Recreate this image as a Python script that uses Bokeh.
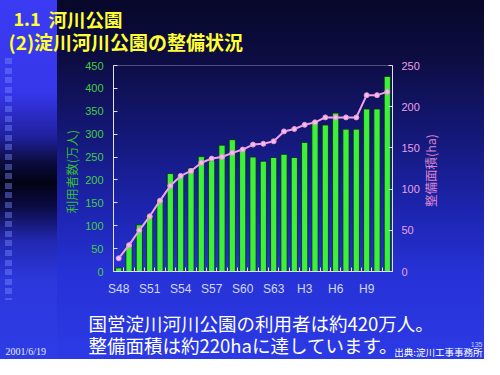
import math
from bokeh.plotting import figure
from bokeh.models import Range1d, LinearAxis, FixedTicker, Label, BoxAnnotation
from bokeh.embed import file_html
from bokeh.resources import INLINE

# ---- data ----
years = ["S48", "S49", "S50", "S51", "S52", "S53", "S54", "S55", "S56", "S57",
         "S58", "S59", "S60", "S61", "S62", "S63", "H1", "H2", "H3", "H4",
         "H5", "H6", "H7", "H8", "H9", "H10", "H11"]
users = [8, 58, 102, 124, 157, 214, 209, 226, 251, 242, 276, 288, 266, 250, 241, 249,
         256, 249, 282, 330, 320, 346, 311, 311, 355, 355, 426]
area = [16, 32, 50, 67, 86, 104, 116, 122, 132, 137, 139, 144, 148, 154, 155, 158,
        170, 173, 178, 181, 187, 187, 187, 187, 214, 214, 218]
label_years = ["S48", "S51", "S54", "S57", "S60", "S63", "H3", "H6", "H9"]
users_ticks = [0, 50, 100, 150, 200, 250, 300, 350, 400, 450]
area_ticks = [0, 50, 100, 150, 200, 250]
users_max, area_max = 450, 250

# ---- layout (pixels on the canvas) ----
W, H = 484, 359
PL, PR, PT, PB = 113, 392, 65, 271   # plot-area box
JP = "Noto Sans CJK JP"

n = len(years)
idx = list(range(n))
x0, x1 = -0.5, n - 0.5
xs = (PR - PL) / (x1 - x0)
ys = (PB - PT) / users_max
ys2 = (PB - PT) / area_max

p = figure(width=W, height=H, output_backend="svg", toolbar_location=None,
           x_axis_location=None, y_axis_location=None,
           x_range=Range1d(x0 - PL / xs, x1 + (W - PR) / xs),
           y_range=Range1d(-(H - PB) / ys, users_max + PT / ys),
           min_border_left=0, min_border_right=0, min_border_top=0, min_border_bottom=0)
p.extra_y_ranges = {"area": Range1d(-(H - PB) / ys2, area_max + PT / ys2)}
p.background_fill_color = None
p.border_fill_color = None
p.outline_line_color = None
p.grid.visible = False

p.styles = {
    "background": (
        "repeating-linear-gradient(to bottom, rgba(120,140,255,0.42) 0px, rgba(120,140,255,0.42) 6px, transparent 6px, transparent 9.6px) 5px 58px / 7px 242px no-repeat, "
        "linear-gradient(to bottom, #3b3bf4 0%, #3636ea 26%, #20209e 38%, #0c0c40 45%, #020214 51%, #0c0c48 58%, #2228b0 67%, #2c38dc 78%, #2e3ce6 100%) 0px 0px / 57px 100% no-repeat, "
        "linear-gradient(to bottom, #07072a 0%, #0d0d44 17%, #141878 38%, #1c24ae 58%, #2632d6 76%, #2c3ae6 100%)"
    )
}

# plot-area outline
p.add_layout(BoxAnnotation(left=x0, right=x1, bottom=0, top=users_max,
                           fill_color=None, line_color="#e0e0f0", line_width=1, level="underlay"))

# bars (left scale) and line (right scale)
p.vbar(x=idx, top=users, width=0.6, fill_color="#3cf03c", line_color="#0a2a0a", line_width=0.8)
p.line(x=idx, y=area, y_range_name="area", line_color="#f2a2ee", line_width=2)
p.scatter(x=idx, y=area, y_range_name="area", marker="circle", size=5,
          fill_color="#f6bce6", line_color="#e496d8")

AX = "#e0e0f0"

# bottom axis
xa = LinearAxis(fixed_location=0, bounds=(x0, x1))
xa.ticker = FixedTicker(ticks=[years.index(y) for y in label_years],
                        minor_ticks=[i + 0.5 for i in range(-1, n)])
xa.major_label_overrides = {years.index(y): y for y in label_years}
xa.major_tick_in = 0
xa.major_tick_out = 0
xa.minor_tick_in = 4
xa.minor_tick_out = 0
xa.minor_tick_line_color = AX
xa.axis_line_color = AX
xa.major_label_text_color = "#d0d8ff"
xa.major_label_text_font = "Liberation Sans"
xa.major_label_text_font_size = "12px"
xa.major_label_standoff = 10
p.add_layout(xa, "below")

# left axis
ya = LinearAxis(fixed_location=x0, bounds=(0, users_max), ticker=FixedTicker(ticks=users_ticks))
ya.major_tick_in = 4
ya.major_tick_out = 0
ya.minor_tick_line_color = None
ya.major_tick_line_color = AX
ya.axis_line_color = AX
ya.major_label_text_color = "#44cc44"
ya.major_label_text_font = "Liberation Sans"
ya.major_label_text_font_size = "11px"
ya.major_label_standoff = 10
p.add_layout(ya, "left")

# right axis
ra = LinearAxis(fixed_location=x1, bounds=(0, area_max), y_range_name="area",
                ticker=FixedTicker(ticks=area_ticks))
ra.major_tick_in = 4
ra.major_tick_out = 0
ra.minor_tick_line_color = None
ra.major_tick_line_color = AX
ra.axis_line_color = AX
ra.major_label_text_color = "#e8a0e8"
ra.major_label_text_font = "Liberation Sans"
ra.major_label_text_font_size = "11px"
ra.major_label_standoff = 9
p.add_layout(ra, "right")


def lab(text, fx, fy, size, color, font=JP, bold=False, align="left", angle=0.0):
    p.add_layout(Label(x=fx, y=H - fy, x_units="screen", y_units="screen",
                       text=text, text_font=font, text_font_size=f"{size}px",
                       text_color=color, text_align=align, text_baseline="middle",
                       angle=angle, text_font_style="bold" if bold else "normal"))


# axis titles
lab("利用者数(万人)", 71, 171, 12.5, "#33bb33", align="center", angle=math.pi / 2)
lab("整備面積(ha)", 430, 170, 12.5, "#d884cc", align="center", angle=math.pi / 2)

# slide texts
lab("1.1", 13, 18.5, 18, "#ffff33", bold=True)
lab("河川公園", 48, 18.5, 18.5, "#ffff33", bold=True)
lab("(2)淀川河川公園の整備状況", 8, 41, 19, "#ffff33", bold=True)
lab("国営淀川河川公園の利用者は約420万人。", 88, 322, 18.5, "#ffffff")
lab("整備面積は約220haに達しています。", 88, 344, 18.5, "#ffffff")
lab("2001/6/19", 5, 351, 10, "#e8ecff", font="Liberation Serif")
lab("出典:淀川工事事務所", 482, 351, 9.5, "#ffffff", align="right")
lab("135", 482, 344, 7, "#c8d0ff", font="Liberation Sans", align="right")

open("out.html", "w").write(file_html(p, INLINE))
